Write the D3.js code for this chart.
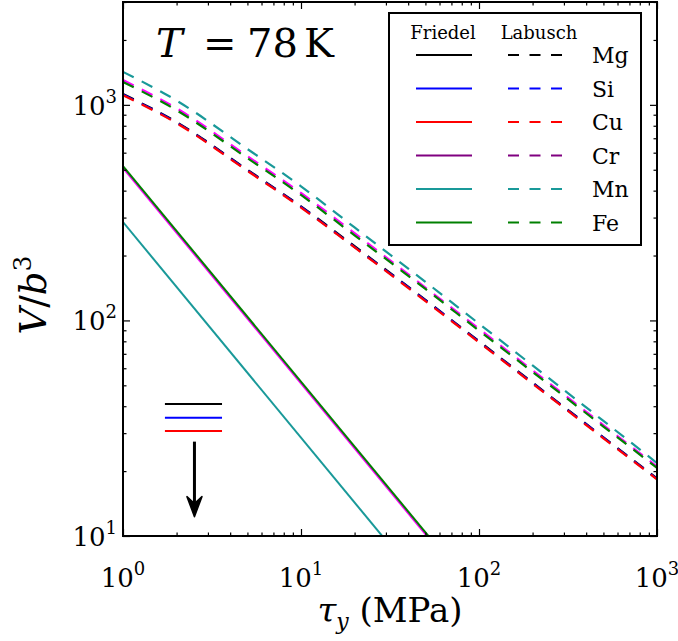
<!DOCTYPE html>
<html>
<head>
<meta charset="utf-8">
<script src="https://cdn.jsdelivr.net/npm/d3@7.9.0/dist/d3.min.js"></script>
<style>
  html, body { margin: 0; padding: 0; background: #fff; }
</style>
</head>
<body>
<svg id="plot" width="678" height="641"></svg>
<script>
// activation volume vs yield stress, T = 78 K
const elements = ['Mg', 'Si', 'Cu', 'Cr', 'Mn', 'Fe'];
const legendColors = ['#000000', '#0000ff', '#ff0000', '#800080', '#199999', '#008000'];
const plotColors   = ['#000000', '#0000ff', '#ff0000', '#ff00ff', '#199999', '#008000'];

// Labusch (dashed) curves
const tauLabusch = [1, 2, 5, 10, 20, 50, 100, 200, 500, 1000];
const labuschMg = [1122, 832, 500, 338, 221, 124.5, 80.1, 51.5, 28.7, 18.5];
const labuschSi = [1116, 827, 497, 336, 219, 124, 79.6, 51.2, 28.6, 18.4];
const labuschCu = [1109, 822, 494, 334, 218, 123, 79.1, 50.9, 28.4, 18.3];
const labuschCr = [1303, 964, 578, 390, 254, 142, 91.4, 58.7, 32.7, 21.0];
const labuschMn = [1422, 1047, 624, 419, 270, 151, 96.6, 61.8, 34.2, 21.8];
const labuschFe = [1276, 944, 566, 382, 248, 140, 89.7, 57.7, 32.2, 20.7];

// Friedel (solid) lines; Mg, Si, Cu fall below the plotted range
const tauFriedel = [1, 100];
const friedelCr = [510, 5.1];
const friedelMn = [286, 2.86];
const friedelFe = [520, 5.2];

const xMajor = [1, 10, 100, 1000];
const xMajorExp = ['0', '1', '2', '3'];
const yMajor = [10, 100, 1000];
const yMajorExp = ['1', '2', '3'];

// off-scale marker: short lines + arrow
const markTau = [1.72, 3.6];
const markV = [41, 35.4, 30.7];
const arrowTau = 2.52;
const arrowV = [27.4, 12.3];

const svg = d3.select('#plot');
const L = 123, R = 657, T = 2, B = 536;
const serif = 'DejaVu Serif';

const x = d3.scaleLog().domain([1, 1000]).range([L, R]);
const y = d3.scaleLog().domain([10, 3000]).range([B, T]);

const minorOf = (lo, hi) => {
  const out = [];
  for (let d = lo; d < hi; d *= 10)
    for (let k = 2; k <= 9; k++) if (d * k <= hi) out.push(d * k);
  return out;
};
const xMinor = minorOf(1, 1000);
const yMinor = minorOf(10, 3000);

svg.append('clipPath').attr('id', 'clip')
  .append('rect').attr('x', L).attr('y', T).attr('width', R - L).attr('height', B - T);

const g = svg.append('g').attr('clip-path', 'url(#clip)');
const line = d3.line().x(d => x(d[0])).y(d => y(d[1])).curve(d3.curveMonotoneX);

const labusch = [labuschMg, labuschSi, labuschCu, labuschCr, labuschMn, labuschFe];
labusch.forEach((vals, i) => {
  g.append('path')
    .attr('d', line(tauLabusch.map((t, j) => [t, vals[j]])))
    .attr('fill', 'none')
    .attr('stroke', plotColors[i])
    .attr('stroke-width', 2.2)
    .attr('stroke-dasharray', '12,9');
});

const friedel = [[friedelCr, 3], [friedelFe, 5], [friedelMn, 4]];
friedel.forEach(([vals, ci]) => {
  g.append('path')
    .attr('d', line(tauFriedel.map((t, j) => [t, vals[j]])))
    .attr('fill', 'none')
    .attr('stroke', plotColors[ci])
    .attr('stroke-width', 2);
});

// off-scale indicator for Mg, Si, Cu
markV.forEach((v, i) => {
  svg.append('line')
    .attr('x1', x(markTau[0])).attr('x2', x(markTau[1]))
    .attr('y1', y(v)).attr('y2', y(v))
    .attr('stroke', plotColors[i]).attr('stroke-width', 2);
});
const ax = x(arrowTau), ay0 = y(arrowV[0]), ay1 = y(arrowV[1]);
svg.append('line')
  .attr('x1', ax).attr('x2', ax).attr('y1', ay0).attr('y2', ay1 - 8)
  .attr('stroke', '#000').attr('stroke-width', 3);
svg.append('path')
  .attr('d', `M${ax},${ay1} L${ax - 7.5},${ay1 - 20} L${ax},${ay1 - 13} L${ax + 7.5},${ay1 - 20} Z`)
  .attr('fill', '#000').attr('stroke', '#000').attr('stroke-width', 1.5).attr('stroke-linejoin', 'round');

// ticks on all four sides, pointing inward
const addTicks = (axisFn, scale, vals, size, transform) => {
  const a = svg.append('g').attr('transform', transform)
    .call(axisFn(scale).tickValues(vals).tickSize(-size).tickFormat(''));
  a.select('.domain').remove();
  a.selectAll('line').attr('stroke', '#000').attr('stroke-width', 1.2);
};
addTicks(d3.axisBottom, x, xMajor, 7, `translate(0,${B})`);
addTicks(d3.axisBottom, x, xMinor, 3.5, `translate(0,${B})`);
addTicks(d3.axisTop, x, xMajor, 7, `translate(0,${T})`);
addTicks(d3.axisTop, x, xMinor, 3.5, `translate(0,${T})`);
addTicks(d3.axisLeft, y, yMajor, 7, `translate(${L},0)`);
addTicks(d3.axisLeft, y, yMinor, 3.5, `translate(${L},0)`);
addTicks(d3.axisRight, y, yMajor, 7, `translate(${R},0)`);
addTicks(d3.axisRight, y, yMinor, 3.5, `translate(${R},0)`);

svg.append('rect')
  .attr('x', L).attr('y', T).attr('width', R - L).attr('height', B - T)
  .attr('fill', 'none').attr('stroke', '#000').attr('stroke-width', 2);

const txt = (sel) => sel.append('text').attr('font-family', serif);

// tick labels as 10^n
xMajor.forEach((v, i) => {
  const t = txt(svg)
    .attr('x', x(v)).attr('y', 587)
    .attr('text-anchor', 'middle')
    .attr('font-size', 26);
  t.append('tspan').text('10');
  t.append('tspan').attr('dy', -12).attr('font-size', 18).text(xMajorExp[i]);
});
yMajor.forEach((v, i) => {
  const t = txt(svg)
    .attr('x', 117).attr('y', y(v) + 10)
    .attr('text-anchor', 'end')
    .attr('font-size', 26);
  t.append('tspan').text('10');
  t.append('tspan').attr('dy', -12).attr('font-size', 18).text(yMajorExp[i]);
});

// axis titles
const xl = txt(svg)
  .attr('x', (L + R) / 2).attr('y', 622)
  .attr('text-anchor', 'middle').attr('font-size', 34);
xl.append('tspan').attr('font-style', 'italic').text('τ');
xl.append('tspan').attr('dy', 7).attr('font-size', 22).attr('font-style', 'italic').text('y');
xl.append('tspan').attr('dy', -7).text(' (MPa)');

const yl = txt(svg)
  .attr('transform', `translate(46,${295}) rotate(-90)`)
  .attr('text-anchor', 'middle').attr('font-size', 37);
yl.append('tspan').attr('font-style', 'italic').text('V');
yl.append('tspan').text('/');
yl.append('tspan').attr('font-style', 'italic').text('b');
yl.append('tspan').attr('dy', -15).attr('font-size', 25).text('3');

// temperature label
const tl = txt(svg).attr('y', 57).attr('font-size', 40);
tl.append('tspan').attr('x', 156).attr('font-style', 'italic').text('T');
tl.append('tspan').attr('x', 203).text('=');
tl.append('tspan').attr('x', 247).text('78');
tl.append('tspan').attr('x', 304).text('K');

// legend
const lg = svg.append('g');
lg.append('rect')
  .attr('x', 389).attr('y', 13).attr('width', 252).attr('height', 232)
  .attr('fill', '#fff').attr('stroke', '#000').attr('stroke-width', 2);
txt(lg).attr('x', 443).attr('y', 39).attr('text-anchor', 'middle')
  .attr('font-size', 18).text('Friedel');
txt(lg).attr('x', 539).attr('y', 39).attr('text-anchor', 'middle')
  .attr('font-size', 18).text('Labusch');
elements.forEach((el, i) => {
  const ry = 55 + i * 33.5;
  lg.append('line').attr('x1', 416).attr('x2', 472).attr('y1', ry).attr('y2', ry)
    .attr('stroke', legendColors[i]).attr('stroke-width', 2);
  lg.append('line').attr('x1', 508).attr('x2', 565).attr('y1', ry).attr('y2', ry)
    .attr('stroke', legendColors[i]).attr('stroke-width', 2)
    .attr('stroke-dasharray', '11,10.5');
  txt(lg).attr('x', 592).attr('y', ry + 8).attr('font-size', 22).text(el);
});
</script>
</body>
</html>
